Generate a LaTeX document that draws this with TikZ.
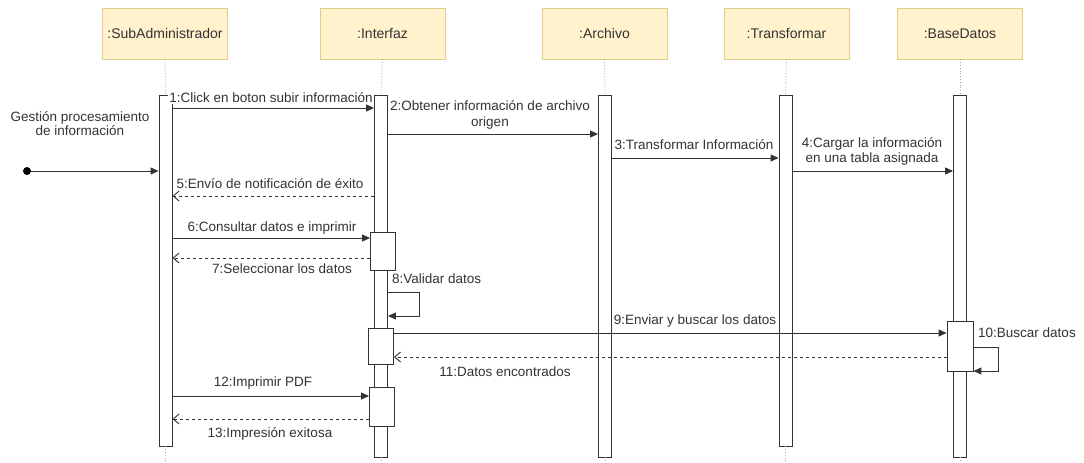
\documentclass[tikz,border=0pt]{standalone}
\usepackage{fontspec}
\setmainfont{Liberation Sans}
\usetikzlibrary{arrows.meta}
\definecolor{hdrfill}{HTML}{FFF2CC}
\definecolor{hdrline}{HTML}{E2CD8C}
\definecolor{ink}{HTML}{333333}
\definecolor{lifegray}{HTML}{A8A8A8}

\begin{document}
\begin{tikzpicture}[x=1pt,y=-1pt,
  header/.style={draw=hdrline, fill=hdrfill, line width=0.7pt, minimum width=125pt,
    minimum height=51pt, inner sep=0pt, text=ink, font=\fontsize{14}{16}\selectfont},
  bar/.style={draw=ink, fill=white, line width=0.9pt, minimum width=13pt, inner sep=0pt},
  actbox/.style={draw=ink, fill=white, line width=0.9pt, minimum width=25pt, inner sep=0pt},
  lifeline/.style={draw=lifegray, dotted, line width=0.8pt},
  call/.style={draw=ink, line width=1pt, -{Triangle[length=8pt,width=7pt]}},
  reply/.style={draw=ink, line width=0.9pt, dash pattern=on 3pt off 3pt,
    -{Straight Barb[length=6pt,width=10pt]}},
  lbl/.style={text=ink, font=\fontsize{13.5}{15.5}\selectfont, inner sep=1pt,
    fill=white, align=center},
]
\useasboundingbox (0,0) rectangle (1084,463);

% participants
\node[header] (hsa) at (165,33.5) {:SubAdministrador};
\node[header] (hif) at (382.5,33.5) {:Interfaz};
\node[header] (har) at (604.5,33.5) {:Archivo};
\node[header] (htr) at (786.5,33.5) {:Transformar};
\node[header] (hbd) at (960,33.5) {:BaseDatos};

% activation bars
\node[bar, minimum height=351pt] (sa) at (165.5,270.5) {};
\node[bar, minimum height=362pt] (if) at (381,276) {};
\node[bar, minimum height=362pt] (ar) at (605,276) {};
\node[bar, minimum height=351pt] (tr) at (785.5,270.5) {};
\node[bar, minimum height=362pt] (bd) at (960,276) {};

% lifelines
\foreach \h/\b in {hsa/sa, hif/if, har/ar, htr/tr, hbd/bd}{
  \draw[lifeline] (\h.south) -- (\b.north);
  \draw[lifeline] (\b.south) -- (\b.south |- 0,463);
}

% nested activations
\node[actbox, minimum height=38pt] (ifA) at (383,251) {};
\node[actbox, minimum height=36pt] (ifB) at (381,346) {};
\node[actbox, minimum height=39pt] (ifC) at (382,406.5) {};
\node[actbox, minimum height=50pt, minimum width=26pt] (bdB) at (960,346) {};

% found message
\node[circle, fill=black, minimum size=8pt, inner sep=0pt] (start) at (27,171) {};
\draw[call] (start) -- (sa.west |- start);
\node[lbl, fill=none, font=\fontsize{13.5}{13.5}\selectfont] (l0) at (80,123.5)
  {Gestión procesamiento\\de información};

% messages
\draw[call] (sa.east |- 0,108) -- (if.west |- 0,108);
\node[lbl] (l1) at (271,98) {1:Click en boton subir información};

\draw[call] (if.east |- 0,134) -- (ar.west |- 0,134);
\node[lbl] (l2) at (490,115) {2:Obtener información de archivo\\origen};

\draw[call] (ar.east |- 0,158) -- (tr.west |- 0,158);
\node[lbl] (l3) at (694,145) {3:Transformar Información};

\draw[call] (tr.east |- 0,171) -- (bd.west |- 0,171);
\node[lbl] (l4) at (872,151.5) {4:Cargar la información\\en una tabla asignada};

\draw[reply] (if.west |- 0,196) -- (sa.east |- 0,196);
\node[lbl] (l5) at (270,184) {5:Envío de notificación de éxito};

\draw[call] (sa.east |- 0,238) -- (ifA.west |- 0,238);
\node[lbl] (l6) at (272,228) {6:Consultar datos e imprimir};

\draw[reply] (ifA.west |- 0,258) -- (sa.east |- 0,258);
\node[lbl] (l7) at (282,269) {7:Seleccionar los datos};

\draw[call] (if.east |- 0,292) -- (419,292) -- (419,316) -- (if.east |- 0,316);
\node[lbl, anchor=west] (l8) at (391,279) {8:Validar datos};

\draw[call] (ifB.east |- 0,333) -- (bdB.west |- 0,333);
\node[lbl] (l9) at (695,321) {9:Enviar y buscar los datos};

\draw[call] (bdB.east |- 0,347) -- (998,347) -- (998,371) -- (bdB.east |- 0,371);
\node[lbl, anchor=west] (l10) at (977,333) {10:Buscar datos};

\draw[reply] (bdB.west |- 0,357) -- (ifB.east |- 0,357);
\node[lbl] (l11) at (505,372) {11:Datos encontrados};

\draw[call] (sa.east |- 0,396) -- (ifC.west |- 0,396);
\node[lbl] (l12) at (263,383) {12:Imprimir PDF};

\draw[reply] (ifC.west |- 0,419) -- (sa.east |- 0,419);
\node[lbl] (l13) at (270,434) {13:Impresión exitosa};
\end{tikzpicture}
\end{document}
